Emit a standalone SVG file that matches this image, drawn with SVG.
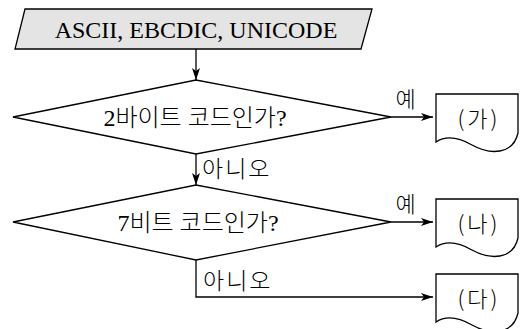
<svg xmlns="http://www.w3.org/2000/svg" width="521" height="329" viewBox="0 0 521 329">
<defs>
<marker id="arr" markerWidth="12" markerHeight="8" refX="12" refY="4" orient="auto" markerUnits="userSpaceOnUse">
<path d="M0,0 L12,4 L0,8 L3,4 Z" fill="#000"/>
</marker>
<style>
.shape{fill:#fff;stroke:#000;stroke-width:1.3}
.io{fill:#e4e4e4;stroke:#000;stroke-width:1.3}
.ln{fill:none;stroke:#000;stroke-width:1.3}
.serif{font-family:"Liberation Serif","Noto Sans CJK KR",serif;fill:#000}
.kr{font-family:"Noto Sans CJK KR",sans-serif;fill:#000;font-weight:300}
.thin{font-weight:300}
</style>
</defs>
<rect width="521" height="329" fill="#fff"/>
<g id="input">
<polygon class="io" points="25,9 372,9 361,49 15,49"/>
<text class="serif" x="196" y="38" font-size="24" text-anchor="middle">ASCII, EBCDIC, UNICODE</text>
</g>
<g id="decision1">
<polygon class="shape" points="13,117 196,80 391,117 196,154"/>
<text class="serif thin" x="195" y="126" font-size="24" text-anchor="middle">2바이트 코드인가?</text>
</g>
<g id="decision2">
<polygon class="shape" points="13,222 196,185 391,222 196,260"/>
<text class="serif thin" x="198" y="231" font-size="24" text-anchor="middle">7비트 코드인가?</text>
</g>
<g id="docA">
<path class="shape" d="M436,94 H518 V133 C513,155 490,155 472,145 C458,137 445,136 436,142 Z"/>
<text class="kr" x="479" y="127" font-size="22" text-anchor="middle" letter-spacing="3">(가)</text>
</g>
<g id="docB">
<path class="shape" d="M436,199 H518 V238 C513,260 490,260 472,250 C458,242 445,241 436,247 Z"/>
<text class="kr" x="479" y="232" font-size="22" text-anchor="middle" letter-spacing="3">(나)</text>
</g>
<g id="docC">
<path class="shape" d="M436,274 H518 V313 C513,335 490,335 472,325 C458,317 445,316 436,322 Z"/>
<text class="kr" x="479" y="307" font-size="22" text-anchor="middle" letter-spacing="3">(다)</text>
</g>
<g id="connectors">
<line class="ln" x1="196" y1="49" x2="196" y2="80" marker-end="url(#arr)"/>
<line class="ln" x1="196" y1="154" x2="196" y2="185" marker-end="url(#arr)"/>
<line class="ln" x1="391" y1="117" x2="433" y2="117" marker-end="url(#arr)"/>
<line class="ln" x1="391" y1="222" x2="433" y2="222" marker-end="url(#arr)"/>
<polyline class="ln" points="196,260 196,297 433,297" marker-end="url(#arr)"/>
<text class="kr" x="405.5" y="107" font-size="22" text-anchor="middle">예</text>
<text class="kr" x="405.5" y="212" font-size="22" text-anchor="middle">예</text>
<text class="kr" x="202" y="177" font-size="23" letter-spacing="2">아니오</text>
<text class="kr" x="203" y="289" font-size="23" letter-spacing="2">아니오</text>
</g>
</svg>
